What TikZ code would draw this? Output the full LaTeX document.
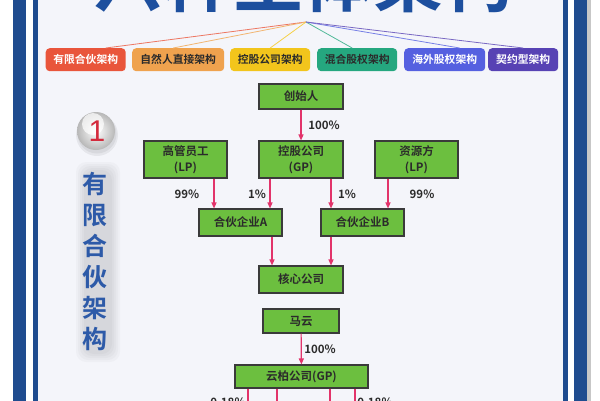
\documentclass[tikz,border=0pt]{standalone}
\usepackage{fontspec}
\setmainfont{Noto Sans CJK SC}[BoldFont={Noto Sans CJK SC Bold}]
\newfontfamily\digitfont{Liberation Sans}
\usetikzlibrary{arrows.meta,calc}
\definecolor{frameblue}{HTML}{1F4C8F}
\definecolor{inbg}{HTML}{F4F5FA}
\definecolor{titleblue}{HTML}{1D4F9E}
\definecolor{vblue}{HTML}{2D5AA8}
\definecolor{boxgreen}{HTML}{6CBF3F}
\definecolor{boxline}{HTML}{3A3A3A}
\definecolor{arrpink}{HTML}{E2336A}
\definecolor{tagred}{HTML}{E9553B}
\definecolor{tagorange}{HTML}{EFA24E}
\definecolor{tagyellow}{HTML}{F2C51C}
\definecolor{tagteal}{HTML}{25A77F}
\definecolor{tagblue}{HTML}{5560E0}
\definecolor{tagpurple}{HTML}{5742B4}
\definecolor{darktxt}{HTML}{2B2B2B}
\definecolor{onered}{HTML}{D42A3C}
\tikzset{
  tagbox/.style={rounded corners=4pt, minimum height=23pt, inner sep=0pt, font=\fontsize{10.8}{12}\selectfont\bfseries, anchor=north west},
  gbox/.style={draw=boxline, line width=1.1pt, fill=boxgreen, inner sep=0pt, align=center, font=\fontsize{11.5}{16}\selectfont\bfseries, text=darktxt},
  arr/.style={draw=arrpink, line width=1.2pt, -{Triangle[length=6pt,width=5pt]}},
  pline/.style={draw=arrpink, line width=1.2pt},
  pct/.style={font=\fontsize{11.5}{13}\selectfont\bfseries, text=darktxt, inner sep=0pt},
  vchar/.style={font=\fontsize{25}{25}\selectfont\bfseries, text=vblue, inner sep=0pt},
  fan/.style={line width=0.8pt}
}
\begin{document}
\begin{tikzpicture}[x=1pt,y=-1pt]
\useasboundingbox (0,0) rectangle (600,400);
\clip (0,0) rectangle (600,400);
% background and frame
\fill[white] (0,0) rectangle (600,400);
\fill[inbg] (38,-5) rectangle (563,405);
\fill[frameblue] (13,-5) rectangle (26,405);
\fill[frameblue] (574,-5) rectangle (587,405);
\fill[frameblue] (33,-5) rectangle (37.5,405);
\fill[frameblue] (563,-5) rectangle (567.5,405);
\fill[black!22] (587,-5) rectangle (591,405);
% title
\node[font=\fontsize{70}{70}\selectfont\bfseries, text=titleblue, inner sep=0pt] (title) at (303,-20) {六种主体架构};
\coordinate (apex) at (306,22);
% tags
\node[tagbox, fill=tagred, text=white, minimum width=80pt] (t1) at (45.5,48) {有限合伙架构};
\node[tagbox, fill=tagorange, text=darktxt, minimum width=92pt] (t2) at (132,48) {自然人直接架构};
\node[tagbox, fill=tagyellow, text=darktxt, minimum width=80pt] (t3) at (230,48) {控股公司架构};
\node[tagbox, fill=tagteal, text=darktxt, minimum width=80pt] (t4) at (317,48) {混合股权架构};
\node[tagbox, fill=tagblue, text=white, minimum width=81pt] (t5) at (404,48) {海外股权架构};
\node[tagbox, fill=tagpurple, text=white, minimum width=70pt] (t6) at (488,48) {契约型架构};
\draw[fan, tagred!80] (apex) -- ([xshift=20pt]t1.north);
\draw[fan, tagorange!80] (apex) -- ([xshift=-5pt]t2.north);
\draw[fan, tagyellow!80] (apex) -- (t3.north);
\draw[fan, tagteal!80] (apex) -- ([xshift=-5pt]t4.north);
\draw[fan, tagblue!80] (apex) -- ([xshift=15pt]t5.north);
\draw[fan, tagpurple!80] (apex) -- (t6.north);
% badge
\fill[black, opacity=0.06] (97,135) circle (21);
\fill[black, opacity=0.06] (97,134) circle (19.5);
\shade[inner color=white, outer color=black!28] (96,131) circle (19);
\fill[white, opacity=0.7] (93,124) circle (11);
\node[font=\digitfont\fontsize{30}{30}\selectfont, text=onered, inner sep=0pt] (one) at (97,131) {1};
% vertical title shadow
\foreach \s in {0,2,4,6,8}{
  \fill[black, opacity=0.025, rounded corners=10pt] (84-\s,170-\s) rectangle (112+\s,354+\s);
}
\node[vchar] (v1) at (95,184) {有};
\node[vchar] (v2) at (95,215) {限};
\node[vchar] (v3) at (95,246) {合};
\node[vchar] (v4) at (95,277) {伙};
\node[vchar] (v5) at (95,308) {架};
\node[vchar] (v6) at (95,339) {构};
% flowchart
\node[gbox, minimum width=84pt, minimum height=25pt] (cs) at (301,96.5) {创始人};
\node[gbox, minimum width=84pt, minimum height=37pt] (kg) at (301,159.5) {控股公司\\(GP)};
\node[gbox, minimum width=83pt, minimum height=37pt] (gg) at (185.5,159.5) {高管员工\\(LP)};
\node[gbox, minimum width=83pt, minimum height=37pt] (zy) at (416.5,159.5) {资源方\\(LP)};
\node[gbox, minimum width=83pt, minimum height=27pt] (pa) at (240.5,222.5) {合伙企业A};
\node[gbox, minimum width=83pt, minimum height=27pt] (pb) at (362.5,222.5) {合伙企业B};
\node[gbox, minimum width=84pt, minimum height=27pt] (hx) at (301,279.5) {核心公司};
\node[gbox, minimum width=76pt, minimum height=24pt] (my) at (301,321) {马云};
\node[gbox, minimum width=133pt, minimum height=23pt] (yb) at (301.5,376.5) {云柏公司(GP)};
% arrows
\draw[arr] (cs) -- (kg);
\draw[arr] ([xshift=28.5pt]gg.south) -- ([xshift=28.5pt]gg.south |- pa.north);
\draw[arr] ([xshift=-31pt]kg.south) -- ([xshift=-31pt]kg.south |- pa.north);
\draw[arr] ([xshift=30pt]kg.south) -- ([xshift=30pt]kg.south |- pb.north);
\draw[arr] ([xshift=-28.5pt]zy.south) -- ([xshift=-28.5pt]zy.south |- pb.north);
\draw[arr] ([xshift=31.5pt]pa.south) -- ([xshift=31.5pt]pa.south |- hx.north);
\draw[arr] ([xshift=-31.5pt]pb.south) -- ([xshift=-31.5pt]pb.south |- hx.north);
\draw[arr] (my) -- (yb);
\coordinate (e1) at (248,410);
\coordinate (e2) at (277,410);
\coordinate (e3) at (330,410);
\coordinate (e4) at (355,410);
\draw[pline] (yb.south -| e1) -- (e1);
\draw[pline] (yb.south -| e2) -- (e2);
\draw[pline] (yb.south -| e3) -- (e3);
\draw[pline] (yb.south -| e4) -- (e4);
% labels
\node[pct] (l1) at (324,125) {100\%};
\node[pct] (l2) at (187,194) {99\%};
\node[pct] (l3) at (257,194) {1\%};
\node[pct] (l4) at (347,194) {1\%};
\node[pct] (l5) at (422,194) {99\%};
\node[pct] (l6) at (320,349) {100\%};
\node[pct] (l7) at (228,402) {0.18\%};
\node[pct] (l8) at (375,402) {0.18\%};
\end{tikzpicture}
\end{document}
